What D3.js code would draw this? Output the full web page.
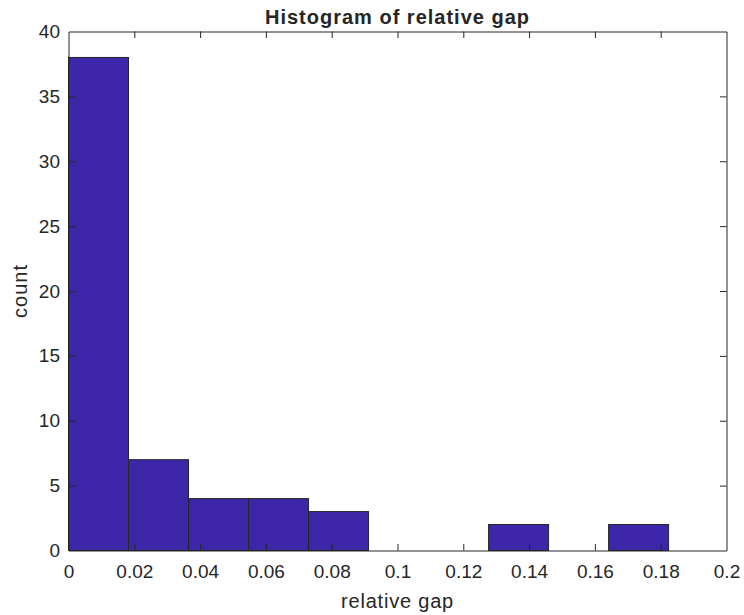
<html>
<head>
<meta charset="UTF-8">
<style>
  body { margin: 0; background: #fff; }
  text { font-family: "Liberation Sans", Arial, sans-serif; fill: #262626; }
</style>
<script src="https://d3js.org/d3.v7.min.js"></script>
</head>
<body>
<script>
// histogram bins (10 bins from 0 to ~0.1824) and counts
var binEdges = [0, 0.01824, 0.03648, 0.05472, 0.07296, 0.0912, 0.10944, 0.12768, 0.14592, 0.16416, 0.1824];
var counts = [38, 7, 4, 4, 3, 0, 0, 2, 0, 2];
var xTicks = [0, 0.02, 0.04, 0.06, 0.08, 0.1, 0.12, 0.14, 0.16, 0.18, 0.2];
var yTicks = [0, 5, 10, 15, 20, 25, 30, 35, 40];

var W = 744, H = 615;
var pLeft = 68.5, pRight = 726.5, pTop = 31.5, pBottom = 550.5;
var tickLen = 6.5;

var svg = d3.select("body").append("svg")
    .attr("width", W).attr("height", H);

var x = d3.scaleLinear().domain([0, 0.2]).range([pLeft, pRight]);
var y = d3.scaleLinear().domain([0, 40]).range([pBottom, pTop]);

// bars
svg.selectAll("rect.bar")
    .data(counts.map(function(c, i) { return {c: c, x0: binEdges[i], x1: binEdges[i + 1]}; })
                .filter(function(d) { return d.c > 0; }))
  .enter().append("rect")
    .attr("class", "bar")
    .attr("x", function(d) { return x(d.x0); })
    .attr("width", function(d) { return x(d.x1) - x(d.x0); })
    .attr("y", function(d) { return y(d.c); })
    .attr("height", function(d) { return y(0) - y(d.c); })
    .attr("fill", "#3d26a8")
    .attr("stroke", "#262626")
    .attr("stroke-width", 1);

// axes - MATLAB style, ticks inward
function fmt(d) { return d3.format("~g")(d); }

var xAxis = svg.append("g").attr("transform", "translate(0," + pBottom + ")")
    .call(d3.axisBottom(x).tickValues(xTicks).tickFormat(fmt).tickSizeInner(-tickLen).tickSizeOuter(0).tickPadding(14));
var xTop = svg.append("g").attr("transform", "translate(0," + pTop + ")")
    .call(d3.axisTop(x).tickValues(xTicks).tickFormat("").tickSizeInner(-tickLen).tickSizeOuter(0));
var yAxis = svg.append("g").attr("transform", "translate(" + pLeft + ",0)")
    .call(d3.axisLeft(y).tickValues(yTicks).tickFormat(fmt).tickSizeInner(-tickLen).tickSizeOuter(0).tickPadding(8.5));
var yRight = svg.append("g").attr("transform", "translate(" + pRight + ",0)")
    .call(d3.axisRight(y).tickValues(yTicks).tickFormat("").tickSizeInner(-tickLen).tickSizeOuter(0));

[xAxis, xTop, yAxis, yRight].forEach(function(g) {
    g.selectAll("path.domain").attr("stroke", "#262626");
    g.selectAll(".tick line").attr("stroke", "#262626");
    g.selectAll(".tick text")
        .style("font-family", "'Liberation Sans', Arial, sans-serif")
        .style("font-size", "19px")
        .attr("fill", "#262626");
});
// drop tick marks that sit on the box corners
xAxis.selectAll(".tick line").filter(function(d) { return d === 0 || d === 0.2; }).remove();
xTop.selectAll(".tick line").filter(function(d) { return d === 0 || d === 0.2; }).remove();
yAxis.selectAll(".tick line").filter(function(d) { return d === 0 || d === 40; }).remove();
yRight.selectAll(".tick line").filter(function(d) { return d === 0 || d === 40; }).remove();

// title and labels
svg.append("text")
    .attr("x", (pLeft + pRight) / 2).attr("y", 24)
    .attr("text-anchor", "middle")
    .style("font-size", "20px").style("font-weight", "bold")
    .style("letter-spacing", "1px")
    .attr("fill", "#000")
    .text("Histogram of relative gap");

svg.append("text")
    .attr("x", (pLeft + pRight) / 2).attr("y", 608)
    .attr("text-anchor", "middle")
    .style("font-size", "20px")
    .style("letter-spacing", "0.8px")
    .text("relative gap");

svg.append("text")
    .attr("transform", "translate(27," + (pTop + pBottom) / 2 + ") rotate(-90)")
    .attr("text-anchor", "middle")
    .style("font-size", "20px")
    .style("letter-spacing", "1px")
    .text("count");
</script>
</body>
</html>
